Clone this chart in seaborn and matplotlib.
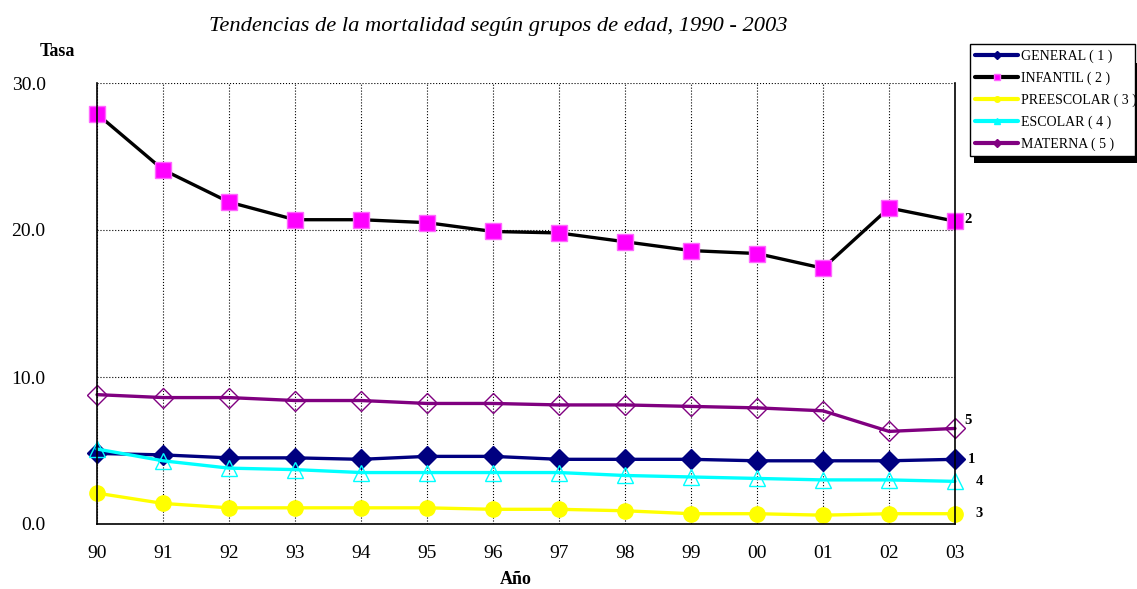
import pandas as pd
import matplotlib
matplotlib.use('Agg')
import matplotlib.pyplot as plt
import seaborn as sns
from matplotlib.lines import Line2D
from matplotlib.patches import Rectangle

# Data
years = ['90', '91', '92', '93', '94', '95', '96', '97', '98', '99', '00', '01', '02', '03']
general = [4.8, 4.7, 4.5, 4.5, 4.4, 4.6, 4.6, 4.4, 4.4, 4.4, 4.3, 4.3, 4.3, 4.4]
infantil = [27.9, 24.1, 21.9, 20.7, 20.7, 20.5, 19.9, 19.8, 19.2, 18.6, 18.4, 17.4, 21.5, 20.6]
preescolar = [2.1, 1.4, 1.1, 1.1, 1.1, 1.1, 1.0, 1.0, 0.9, 0.7, 0.7, 0.6, 0.7, 0.7]
escolar = [5.1, 4.3, 3.8, 3.7, 3.5, 3.5, 3.5, 3.5, 3.3, 3.2, 3.1, 3.0, 3.0, 2.9]
materna = [8.8, 8.6, 8.6, 8.4, 8.4, 8.2, 8.2, 8.1, 8.1, 8.0, 7.9, 7.7, 6.3, 6.5]

series_names = ['GENERAL ( 1 )', 'INFANTIL ( 2 )', 'PREESCOLAR ( 3 )', 'ESCOLAR ( 4 )', 'MATERNA ( 5 )']
series_vals = [general, infantil, preescolar, escolar, materna]
end_labels = ['1', '2', '3', '4', '5']
# offsets (points) of the end labels from the last point
end_offsets = [(9, 0), (7, 1), (15, 0), (15, 0), (7, 6)]

styles = {
    'GENERAL ( 1 )': dict(color='#000080', marker='D', mfc='#000080', mec='#000080', ms=10),
    'INFANTIL ( 2 )': dict(color='black', marker='s', mfc='#FF00FF', mec='#FF66FF', ms=11),
    'PREESCOLAR ( 3 )': dict(color='#FFFF00', marker='o', mfc='#FFFF00', mec='#FFFF00', ms=11),
    'ESCOLAR ( 4 )': dict(color='#00FFFF', marker='^', mfc='none', mec='#00FFFF', ms=11),
    'MATERNA ( 5 )': dict(color='#800080', marker='D', mfc='none', mec='#800080', ms=10),
}

rows = []
for name, vals in zip(series_names, series_vals):
    for i, v in enumerate(vals):
        rows.append({'serie': name, 'x': i, 'tasa': v})
df = pd.DataFrame(rows)

sns.set_style('white')
plt.rcParams['font.family'] = ['Liberation Serif', 'DejaVu Serif']
plt.rcParams['text.color'] = 'black'
plt.rcParams['xtick.color'] = 'black'
plt.rcParams['ytick.color'] = 'black'

fig = plt.figure(figsize=(11.37, 5.89), dpi=100)
ax = fig.add_axes([97 / 1137, 65 / 589, (955 - 97) / 1137, (524 - 83) / 589])

for name in series_names:
    st = styles[name]
    sub = df[df['serie'] == name]
    sns.lineplot(data=sub, x='x', y='tasa', ax=ax, color=st['color'], linewidth=2.4,
                 marker=st['marker'], markersize=st['ms'], markerfacecolor=st['mfc'],
                 markeredgecolor=st['mec'], markeredgewidth=1.0, legend=False, clip_on=False)

ax.set_xlim(0, len(years) - 1)
ax.set_ylim(0, 30)
ax.set_xticks(range(len(years)))
ax.set_xticklabels(years, fontsize=14)
ax.set_yticks([0, 10, 20, 30])
ax.set_yticklabels(['0.0', '10.0', '20.0', '30.0'], fontsize=14)
ax.tick_params(axis='both', direction='out', length=5, width=1, color='black', labelcolor='black')
ax.tick_params(axis='y', pad=32)
ax.tick_params(axis='x', pad=10)
ax.grid(True, color='black', linestyle=':', linewidth=0.8)
ax.set_xlabel('')
ax.set_ylabel('')
for side in ['left', 'bottom', 'right']:
    ax.spines[side].set_color('black')
    ax.spines[side].set_linewidth(1.2)
ax.spines['top'].set_visible(False)

# end-of-line labels
for lab, vals, off in zip(end_labels, series_vals, end_offsets):
    ax.annotate(lab, xy=(len(years) - 1, vals[-1]), xytext=off, textcoords='offset points',
                fontsize=10.5, fontweight='bold', va='center', ha='left', annotation_clip=False)

fig.text(498 / 1137, 1 - 27 / 589, 'Tendencias de la mortalidad según grupos de edad, 1990 - 2003',
         ha='center', va='center', fontsize=16.2, style='italic')
fig.text(57 / 1137, 1 - 52 / 589, 'Tasa', ha='center', va='center', fontsize=13, fontweight='bold')
fig.text(516 / 1137, 1 - 580 / 589, 'Año', ha='center', va='center', fontsize=13, fontweight='bold')

# legend with black shadow
fig.patches.append(Rectangle((974 / 1137, 1 - 163 / 589), (1137 - 974) / 1137, 100 / 589,
                             transform=fig.transFigure, facecolor='black', edgecolor='none', zorder=0))
handles = []
for name in series_names:
    st = styles[name]
    handles.append(Line2D([], [], color=st['color'], linewidth=3, marker=st['marker'],
                          markersize=4, markerfacecolor=st['color'] if name != 'INFANTIL ( 2 )' else '#FF00FF',
                          markeredgecolor=st['mec']))
leg = fig.legend(handles, series_names, loc='upper left',
                 bbox_to_anchor=(970 / 1137, 1 - 44 / 589, (1135 - 970) / 1137, 0.0),
                 mode='expand', borderaxespad=0, frameon=True, fancybox=False, edgecolor='black',
                 fontsize=10, handlelength=3.1, handletextpad=0.2, labelspacing=0.62, borderpad=0.38)
leg.get_frame().set_facecolor('white')
leg.get_frame().set_alpha(1)
leg.get_frame().set_linewidth(1)

fig.savefig('out.png', dpi=100)
